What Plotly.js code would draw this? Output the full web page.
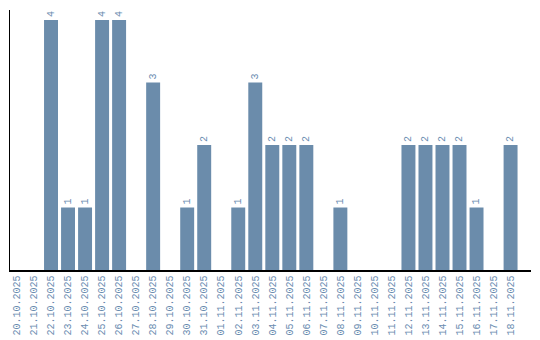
<!DOCTYPE html>
<html>
<head>
<meta charset="utf-8">
<script src="https://cdn.plot.ly/plotly-3.0.1.min.js"></script>
<style>html,body{margin:0;padding:0;background:#fff;}#chart{width:540px;height:340px;}</style>
</head>
<body>
<div id="chart"></div>
<script>
const dates = ["20.10.2025","21.10.2025","22.10.2025","23.10.2025","24.10.2025","25.10.2025","26.10.2025","27.10.2025","28.10.2025","29.10.2025","30.10.2025","31.10.2025","01.11.2025","02.11.2025","03.11.2025","04.11.2025","05.11.2025","06.11.2025","07.11.2025","08.11.2025","09.11.2025","10.11.2025","11.11.2025","12.11.2025","13.11.2025","14.11.2025","15.11.2025","16.11.2025","17.11.2025","18.11.2025"];
const counts = [0,0,4,1,1,4,4,0,3,0,1,2,0,1,3,2,2,2,0,1,0,0,0,2,2,2,2,1,0,2];
const labels = counts.map(v => v > 0 ? String(v) : "");

const barColor = "#6b8cab";
const textColor = "#6a8cb0";
const font = "'Liberation Mono', 'DejaVu Sans Mono', monospace";

Plotly.newPlot("chart", [{
  type: "bar",
  x: dates,
  y: counts,
  text: labels,
  textposition: "outside",
  textangle: -90,
  constraintext: "none",
  cliponaxis: false,
  textfont: {family: font, size: 10, color: textColor},
  marker: {color: barColor},
  hoverinfo: "x+y"
}], {
  width: 540, height: 340,
  margin: {l: 10, r: 9, t: 10, b: 70, pad: 0},
  paper_bgcolor: "#fff", plot_bgcolor: "#fff",
  bargap: 0.18,
  showlegend: false,
  xaxis: {
    type: "category",
    range: [-0.41, 30.2],
    showline: true, linecolor: "#000", linewidth: 1.5,
    showgrid: false, zeroline: false, ticks: "",
    tickangle: -90,
    tickfont: {family: font, size: 10, color: textColor},
    automargin: false
  },
  yaxis: {
    range: [0, 4.16],
    showline: true, linecolor: "#000", linewidth: 1.5,
    showgrid: false, zeroline: false, ticks: "", showticklabels: false,
    automargin: false
  }
}, {displayModeBar: false, staticPlot: true});
</script>
</body>
</html>
